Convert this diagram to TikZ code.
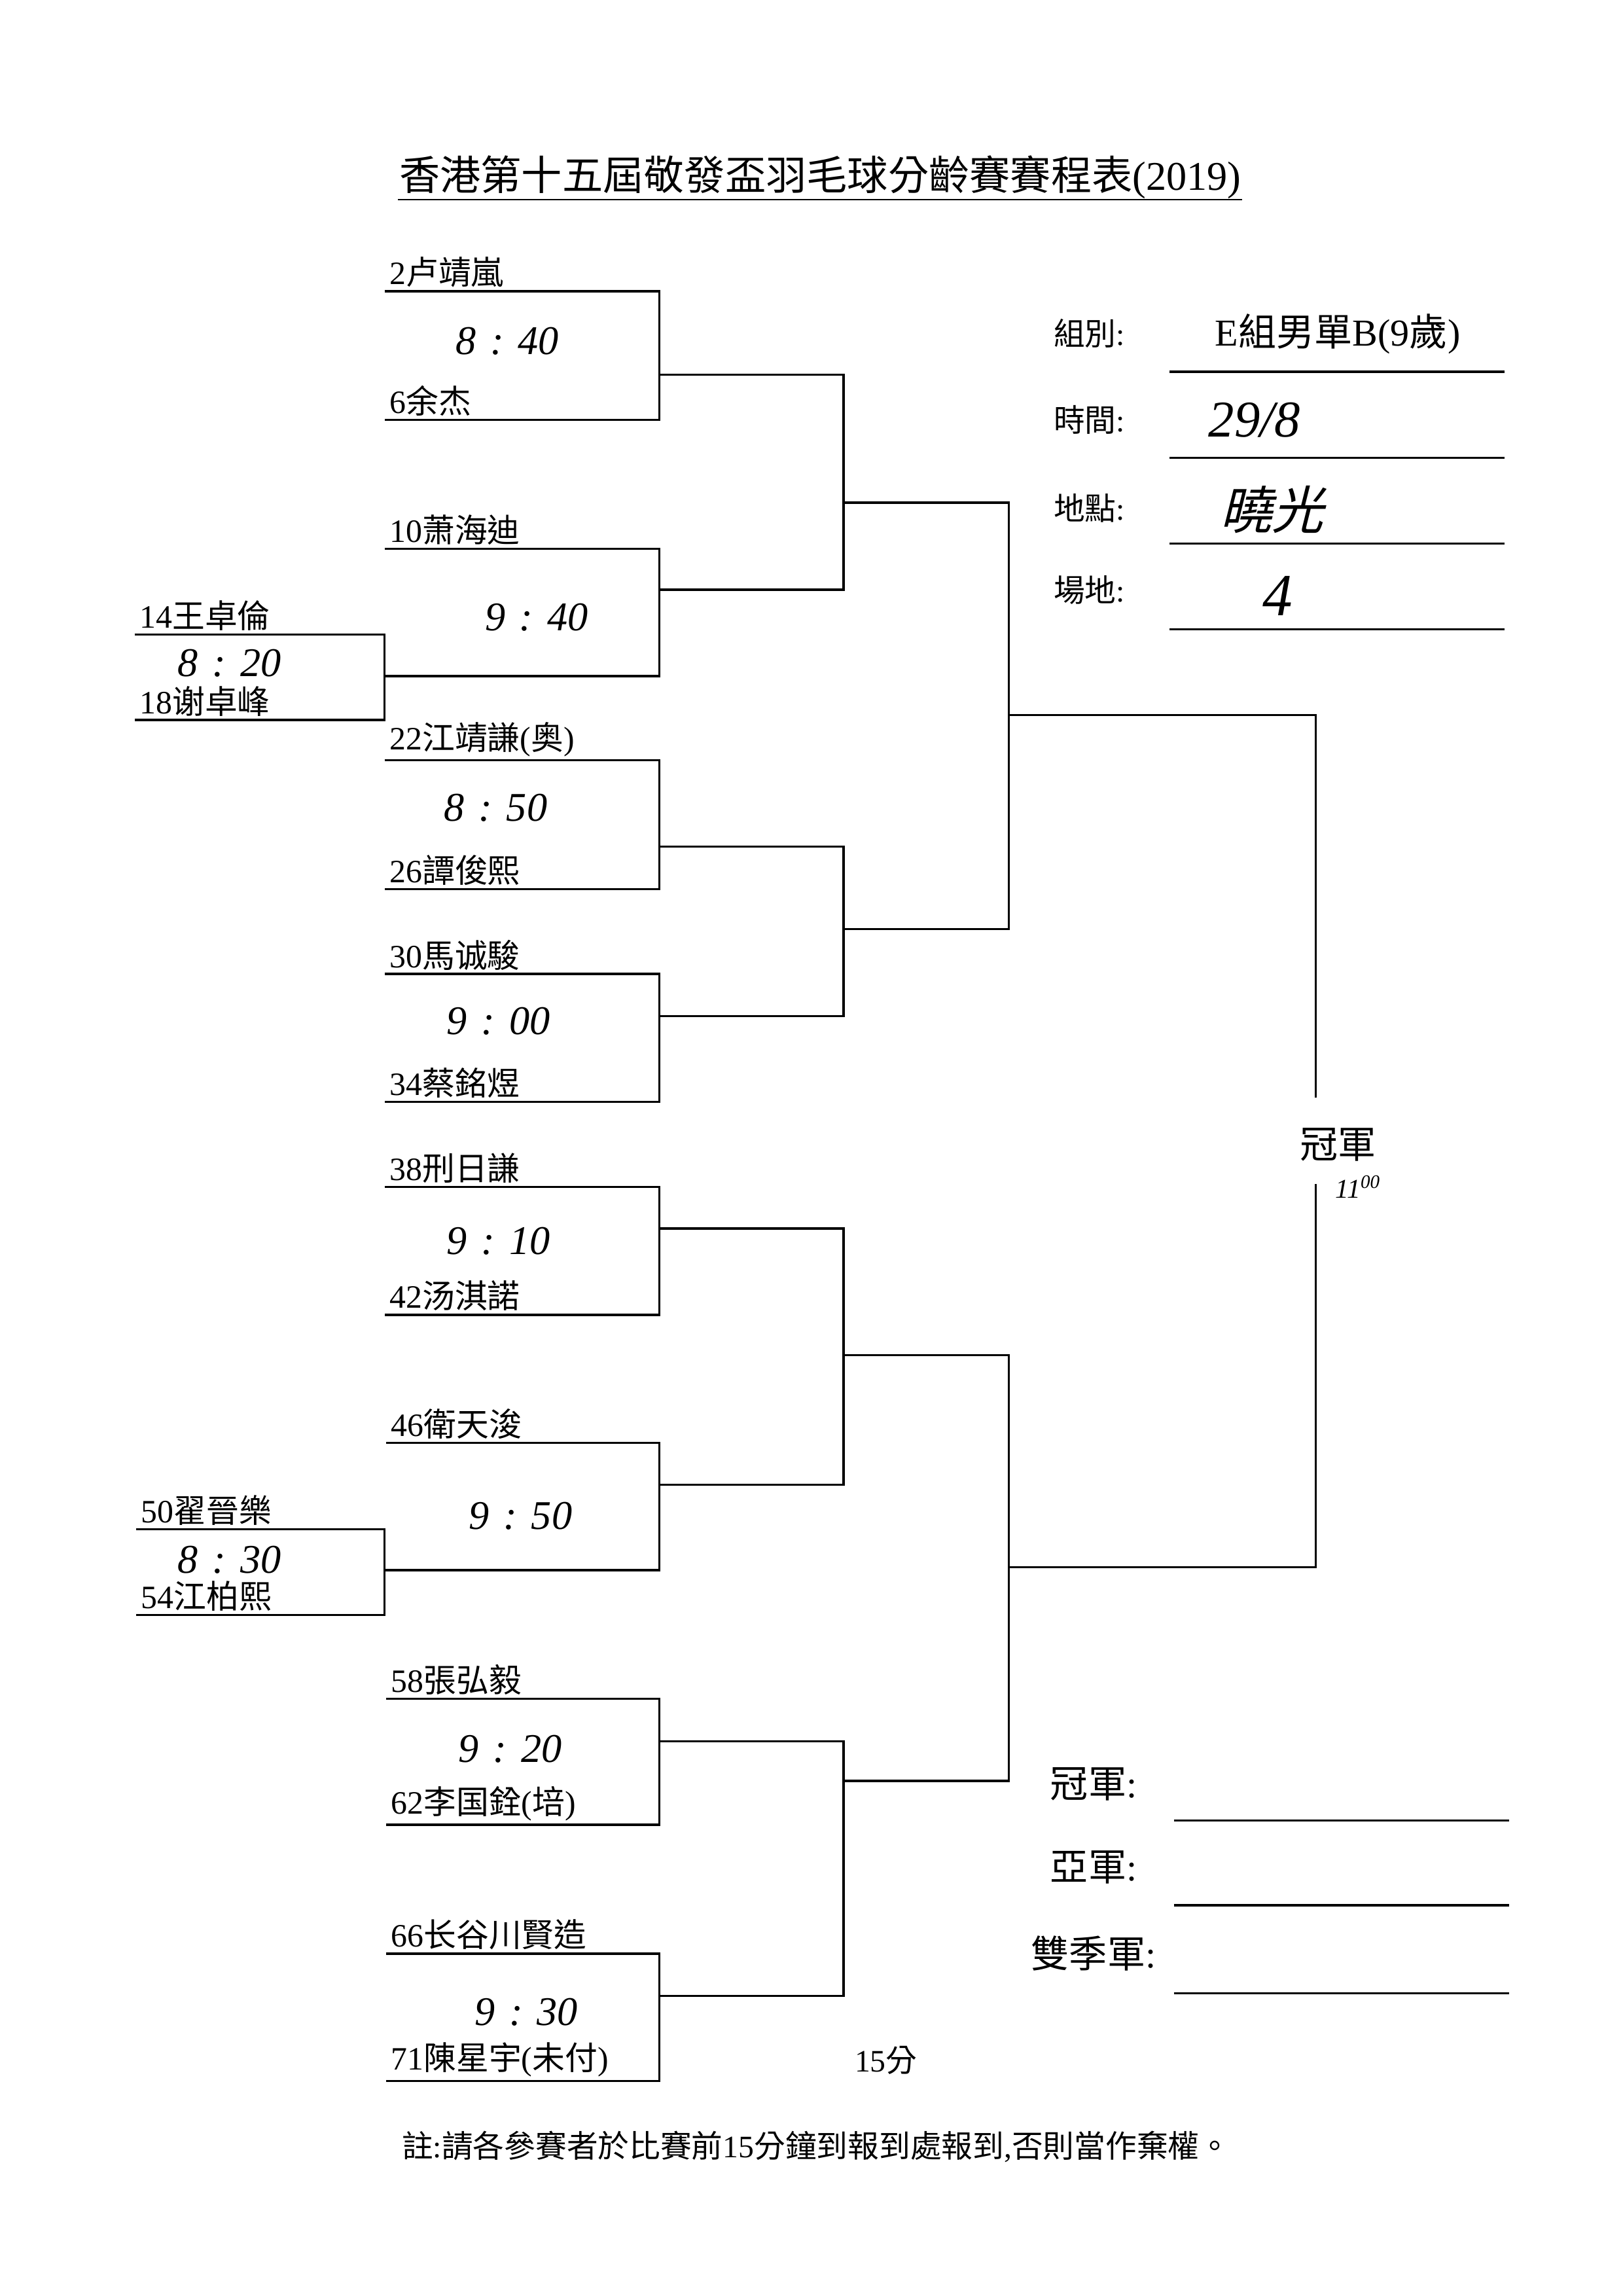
\documentclass[tikz,border=0pt]{standalone}
\usepackage{fontspec}
\setmainfont{Liberation Serif}
\newfontfamily\cjk{Noto Sans CJK TC}
\newfontfamily\cjkhand[FakeSlant=0.25]{Noto Sans CJK TC}
\newcommand{\zh}[1]{{\cjk #1}}
\newcommand{\hm}[2]{#1\hspace{.35em}:\hspace{.35em}#2}
\usetikzlibrary{positioning}
\tikzset{
  player/.style={inner sep=0pt, font=\fontsize{12}{14}\selectfont},
  hand/.style={font=\fontsize{15}{18}\selectfont\itshape},
  big/.style={font=\fontsize{14}{16}\selectfont},
  info/.style={font=\fontsize{11.5}{14}\selectfont},
}
\begin{document}
\begin{tikzpicture}[x=0.018919cm,y=-0.018929cm,line width=0.8pt]
\useasboundingbox (0,0) rectangle (1110,1569);
%\draw[very thin,color=gray,step=50] (0,0) grid (1110,1569);
\node[font=\fontsize{15}{18}\selectfont, inner sep=0pt, anchor=base] (title) at (561,130) {\zh{香港第十五屆敬發盃羽毛球分齡賽賽程表}(2019)};
\draw[line width=0.6pt] ([yshift=-3.5pt]title.base west) -- ([yshift=-3.5pt]title.base east);
% columns
\coordinate (c1) at (263,0); \coordinate (c2) at (451,0);
\coordinate (c3) at (577,0); \coordinate (c4) at (690,0);
% line starts
\coordinate (s2) at (263,199); \coordinate (s6) at (263,287);
\coordinate (s10) at (263,375); \coordinate (m14) at (263,462);
\coordinate (s14) at (92,433.5); \coordinate (s18) at (92,492);
\coordinate (s22) at (263,519.5); \coordinate (s26) at (263,607.5);
\coordinate (s30) at (263,665.5); \coordinate (s34) at (263,753);
\coordinate (s38) at (263,811); \coordinate (s42) at (263,898.5);
\coordinate (s46) at (264,986); \coordinate (m50) at (263,1073);
\coordinate (s50) at (93,1045); \coordinate (s54) at (93,1103.5);
\coordinate (s58) at (264,1161); \coordinate (s62) at (264,1247);
\coordinate (s66) at (264,1335); \coordinate (s71) at (264,1422);
% joins
\coordinate (m1) at (451,256); \coordinate (m2) at (451,403);
\coordinate (m3) at (451,578.5); \coordinate (m4) at (451,694.5);
\coordinate (m5) at (451,839.5); \coordinate (m6) at (451,1014.5);
\coordinate (m7) at (451,1190); \coordinate (m8) at (451,1364);
\coordinate (n1) at (577,343.5); \coordinate (n2) at (577,635);
\coordinate (n3) at (577,926); \coordinate (n4) at (577,1217);
\coordinate (q1) at (690,488.5); \coordinate (q2) at (690,1071);
\coordinate (g1) at (900,750); \coordinate (g2) at (900,809);
% names
\node[player, above right=1pt and 1.5pt of s2] (p2) {2\zh{卢靖嵐}};
\node[player, above right=1pt and 1.5pt of s6] (p6) {6\zh{余杰}};
\node[player, above right=1pt and 1.5pt of s10] (p10) {10\zh{萧海迪}};
\node[player, above right=1pt and 1.5pt of s14] (p14) {14\zh{王卓倫}};
\node[player, above right=1pt and 1.5pt of s18] (p18) {18\zh{谢卓峰}};
\node[player, above right=1pt and 1.5pt of s22] (p22) {22\zh{江靖謙}(\zh{奥})};
\node[player, above right=1pt and 1.5pt of s26] (p26) {26\zh{譚俊熙}};
\node[player, above right=1pt and 1.5pt of s30] (p30) {30\zh{馬诚駿}};
\node[player, above right=1pt and 1.5pt of s34] (p34) {34\zh{蔡銘煜}};
\node[player, above right=1pt and 1.5pt of s38] (p38) {38\zh{刑日謙}};
\node[player, above right=1pt and 1.5pt of s42] (p42) {42\zh{汤淇諾}};
\node[player, above right=1pt and 1.5pt of s46] (p46) {46\zh{衛天浚}};
\node[player, above right=1pt and 1.5pt of s50] (p50) {50\zh{翟晉樂}};
\node[player, above right=1pt and 1.5pt of s54] (p54) {54\zh{江柏熙}};
\node[player, above right=1pt and 1.5pt of s58] (p58) {58\zh{張弘毅}};
\node[player, above right=1pt and 1.5pt of s62] (p62) {62\zh{李国銓}(\zh{培})};
\node[player, above right=1pt and 1.5pt of s66] (p66) {66\zh{长谷川賢造}};
\node[player, above right=1pt and 1.5pt of s71] (p71) {71\zh{陳星宇}(\zh{未付})};
% times
\node[hand] (t1) at (347,233) {\hm{8}{40}};
\node[hand] (t2) at (367,422) {\hm{9}{40}};
\node[hand] (t14) at (157,453) {\hm{8}{20}};
\node[hand] (t3) at (339,552) {\hm{8}{50}};
\node[hand] (t4) at (341,698) {\hm{9}{00}};
\node[hand] (t5) at (341,848) {\hm{9}{10}};
\node[hand] (t6) at (356,1036) {\hm{9}{50}};
\node[hand] (t50) at (157,1066) {\hm{8}{30}};
\node[hand] (t7) at (349,1195) {\hm{9}{20}};
\node[hand] (t8) at (360,1375) {\hm{9}{30}};
% first round
\draw (s2) -| (c2 |- s6) -- (s6);
\draw (s10) -| (c2 |- m14) -- (m14);
\draw (s14) -| (c1 |- s18) -- (s18);
\draw (s22) -| (c2 |- s26) -- (s26);
\draw (s30) -| (c2 |- s34) -- (s34);
\draw (s38) -| (c2 |- s42) -- (s42);
\draw (s46) -| (c2 |- m50) -- (m50);
\draw (s50) -| (c1 |- s54) -- (s54);
\draw (s58) -| (c2 |- s62) -- (s62);
\draw (s66) -| (c2 |- s71) -- (s71);
% second round and on
\draw (m1) -| (c3 |- m2) -- (m2);
\draw (m3) -| (c3 |- m4) -- (m4);
\draw (m5) -| (c3 |- m6) -- (m6);
\draw (m7) -| (c3 |- m8) -- (m8);
\draw (n1) -| (c4 |- n2) -- (n2);
\draw (n3) -| (c4 |- n4) -- (n4);
\draw (q1) -| (g1);
\draw (g2) |- (q2);
\node[big] (champ) at (915,782) {\zh{冠軍}};
\node[font=\fontsize{10}{12}\selectfont\itshape] (ctime) at (929,811) {11\textsuperscript{00}};
% info panel
\node[info] (lab1) at (745,228) {\zh{組別}:};
\node[big] (grp) at (915,228) {E\zh{組男單}B(9\zh{歲})};
\node[info] (lab2) at (745,287) {\zh{時間}:};
\node[font=\fontsize{19}{21}\selectfont\itshape] (date) at (858,287) {29/8};
\node[info] (lab3) at (745,347) {\zh{地點}:};
\node[font=\fontsize{19}{21}\selectfont\cjkhand] (venue) at (870,348) {曉光};
\node[info] (lab4) at (745,403) {\zh{場地}:};
\node[font=\fontsize{22}{24}\selectfont\itshape] (court) at (874,407) {4};
\coordinate (u1) at (800,254); \coordinate (v1) at (1029,254);
\coordinate (u2) at (800,313); \coordinate (v2) at (1029,313);
\coordinate (u3) at (800,371.5); \coordinate (v3) at (1029,371.5);
\coordinate (u4) at (800,430); \coordinate (v4) at (1029,430);
\draw (u1) -- (v1); \draw (u2) -- (v2);
\draw (u3) -- (v3); \draw (u4) -- (v4);
% results
\node[big] (w1) at (748,1219) {\zh{冠軍}:};
\node[big] (w2) at (748,1276) {\zh{亞軍}:};
\node[big] (w3) at (748,1335) {\zh{雙季軍}:};
\coordinate (x1) at (803,1244); \coordinate (y1) at (1032,1244);
\coordinate (x2) at (803,1302); \coordinate (y2) at (1032,1302);
\coordinate (x3) at (803,1362); \coordinate (y3) at (1032,1362);
\draw (x1) -- (y1); \draw (x2) -- (y2); \draw (x3) -- (y3);
\node[info] (min15) at (606,1408) {15\zh{分}};
\node[info, anchor=west] (note) at (268,1467) {\zh{註}:\zh{請各參賽者於比賽前}15\zh{分鐘到報到處報到},\zh{否則當作棄權。}};
\end{tikzpicture}
\end{document}
